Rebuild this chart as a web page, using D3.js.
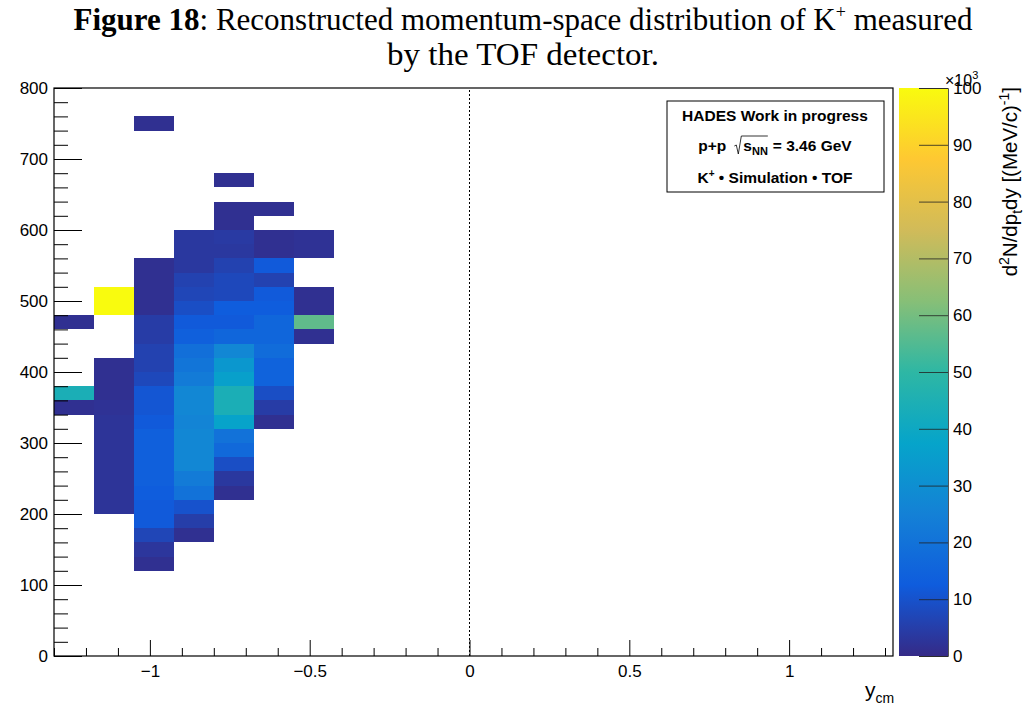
<!DOCTYPE html>
<html>
<head>
<meta charset="utf-8">
<script src="https://d3js.org/d3.v7.min.js"></script>
<style>
  body { margin: 0; background: #fff; }
  text { font-family: "Liberation Sans", Arial, sans-serif; }
</style>
</head>
<body>
<script>
// bin size of the 2D histogram
const binW = 0.125;
const binH = 20;

// filled cells: [x low edge, y low edge, z value (x10^3)]
const cells = [
  [-1.05, 740, 1.5],
  [-0.8, 660, 1.5],
  [-0.8, 620, 1.5], [-0.675, 620, 1.5],
  [-0.8, 600, 1.5],
  [-0.925, 580, 3.5], [-0.8, 580, 4], [-0.675, 580, 1.5], [-0.55, 580, 2],
  [-0.925, 560, 3.5], [-0.8, 560, 3.5], [-0.675, 560, 1.5], [-0.55, 560, 2],
  [-1.05, 540, 1.5], [-0.925, 540, 3.5], [-0.8, 540, 6], [-0.675, 540, 12],
  [-1.05, 520, 1.5], [-0.925, 520, 6], [-0.8, 520, 7.5], [-0.675, 520, 6],
  [-1.175, 500, 100], [-1.05, 500, 1.5], [-0.925, 500, 7], [-0.8, 500, 7.5], [-0.675, 500, 12], [-0.55, 500, 1.5],
  [-1.175, 480, 100], [-1.05, 480, 1.5], [-0.925, 480, 9], [-0.8, 480, 13], [-0.675, 480, 13], [-0.55, 480, 1.5],
  [-1.3, 460, 1.5], [-1.05, 460, 4.5], [-0.925, 460, 12], [-0.8, 460, 12], [-0.675, 460, 16], [-0.55, 460, 57],
  [-1.05, 440, 4.5], [-0.925, 440, 14], [-0.8, 440, 16], [-0.675, 440, 16], [-0.55, 440, 1.5],
  [-1.05, 420, 6], [-0.925, 420, 19], [-0.8, 420, 27], [-0.675, 420, 18],
  [-1.175, 400, 1.5], [-1.05, 400, 6], [-0.925, 400, 21], [-0.8, 400, 33], [-0.675, 400, 15],
  [-1.175, 380, 1.5], [-1.05, 380, 7.5], [-0.925, 380, 23], [-0.8, 380, 36], [-0.675, 380, 15],
  [-1.3, 360, 44], [-1.175, 360, 1.5], [-1.05, 360, 11], [-0.925, 360, 27], [-0.8, 360, 44], [-0.675, 360, 9],
  [-1.3, 340, 1.5], [-1.175, 340, 2], [-1.05, 340, 11], [-0.925, 340, 27], [-0.8, 340, 44], [-0.675, 340, 4.5],
  [-1.175, 320, 2.5], [-1.05, 320, 12], [-0.925, 320, 26], [-0.8, 320, 37], [-0.675, 320, 1.5],
  [-1.175, 300, 2.5], [-1.05, 300, 14], [-0.925, 300, 27], [-0.8, 300, 20],
  [-1.175, 280, 2.5], [-1.05, 280, 14], [-0.925, 280, 27], [-0.8, 280, 17],
  [-1.175, 260, 2.5], [-1.05, 260, 14], [-0.925, 260, 27], [-0.8, 260, 9],
  [-1.175, 240, 2.5], [-1.05, 240, 14], [-0.925, 240, 23], [-0.8, 240, 3.5],
  [-1.175, 220, 2.5], [-1.05, 220, 13], [-0.925, 220, 20], [-0.8, 220, 1.5],
  [-1.175, 200, 2.5], [-1.05, 200, 12], [-0.925, 200, 10],
  [-1.05, 180, 12], [-0.925, 180, 5],
  [-1.05, 160, 7], [-0.925, 160, 1.5],
  [-1.05, 140, 3],
  [-1.05, 120, 1.5]
];

const xMajor = [-1, -0.5, 0, 0.5, 1];
const yMajor = [0, 100, 200, 300, 400, 500, 600, 700, 800];
const zMajor = [0, 10, 20, 30, 40, 50, 60, 70, 80, 90, 100];

// ROOT kBird palette
const paletteStops = [0, 0.125, 0.25, 0.375, 0.5, 0.625, 0.75, 0.875, 1];
const paletteColors = [
  [0.2082, 0.1664, 0.5293], [0.0592, 0.3599, 0.8684], [0.0780, 0.5041, 0.8385],
  [0.0232, 0.6419, 0.7914], [0.1802, 0.7178, 0.6425], [0.5301, 0.7492, 0.4662],
  [0.8186, 0.7328, 0.3499], [0.9956, 0.7862, 0.1968], [0.9764, 0.9832, 0.0539]
].map(c => d3.rgb(c[0] * 255, c[1] * 255, c[2] * 255).formatHex());

const W = 1028, H = 709;
const svg = d3.select("body").append("svg").attr("width", W).attr("height", H);

const frame = { left: 54, right: 893, top: 88, bottom: 656 };
const x = d3.scaleLinear().domain([-1.3, 1.325]).range([frame.left, frame.right]);
const y = d3.scaleLinear().domain([0, 800]).range([frame.bottom, frame.top]);
const zMax = 100;
const color = d3.scaleLinear()
  .domain(paletteStops.map(s => s * zMax))
  .range(paletteColors)
  .clamp(true);

// title
const title = svg.append("text")
  .attr("text-anchor", "middle")
  .style("font-family", "'Liberation Serif', 'Times New Roman', serif")
  .attr("font-size", 31);
const l1 = title.append("tspan").attr("x", 523).attr("y", 30);
l1.append("tspan").attr("font-weight", "bold").text("Figure 18");
l1.append("tspan").text(": Reconstructed momentum-space distribution of K");
l1.append("tspan").attr("font-size", 18).attr("dy", -12).text("+");
l1.append("tspan").attr("dy", 12).text(" measured");
title.append("tspan").attr("x", 523).attr("y", 65)
  .attr("textLength", 272).attr("lengthAdjust", "spacingAndGlyphs")
  .text("by the TOF detector.");

// cells
svg.append("g")
  .selectAll("rect")
  .data(cells)
  .join("rect")
  .attr("x", d => x(d[0]))
  .attr("y", d => y(d[1] + binH))
  .attr("width", d => x(d[0] + binW) - x(d[0]))
  .attr("height", d => y(d[1]) - y(d[1] + binH))
  .attr("fill", d => color(d[2]))
  .attr("shape-rendering", "crispEdges");

// dotted line at y_cm = 0
svg.append("line")
  .attr("x1", x(0)).attr("x2", x(0))
  .attr("y1", y(0)).attr("y2", y(800))
  .attr("stroke", "#000")
  .attr("stroke-width", 1)
  .attr("stroke-dasharray", "2,2");

// axes
const fmt = d3.format("~g");
const xMinor = x.ticks(26).filter(v => !xMajor.some(m => Math.abs(m - v) < 1e-6));
const yMinor = y.ticks(40).filter(v => v % 100 !== 0);
const labelFont = g => g.selectAll("text").attr("font-size", 17).attr("font-family", "Liberation Sans, Arial, sans-serif");

svg.append("g")
  .attr("transform", `translate(0,${frame.bottom})`)
  .call(d3.axisBottom(x).tickValues(xMinor).tickSize(-8).tickFormat(""))
  .call(g => g.select(".domain").remove());
svg.append("g")
  .attr("transform", `translate(0,${frame.bottom})`)
  .call(d3.axisBottom(x).tickValues(xMajor).tickSize(-16).tickPadding(9).tickFormat(fmt))
  .call(g => g.select(".domain").remove())
  .call(labelFont);

svg.append("g")
  .attr("transform", `translate(${frame.left},0)`)
  .call(d3.axisLeft(y).tickValues(yMinor).tickSize(-14).tickFormat(""))
  .call(g => g.select(".domain").remove());
svg.append("g")
  .attr("transform", `translate(${frame.left},0)`)
  .call(d3.axisLeft(y).tickValues(yMajor).tickSize(-28).tickPadding(6).tickFormat(fmt))
  .call(g => g.select(".domain").remove())
  .call(labelFont);

// frame
svg.append("rect")
  .attr("x", frame.left).attr("y", frame.top)
  .attr("width", frame.right - frame.left).attr("height", frame.bottom - frame.top)
  .attr("fill", "none").attr("stroke", "#000").attr("stroke-width", 1.2);

// x axis title
const xt = svg.append("text").attr("x", 865).attr("y", 697).attr("font-size", 21);
xt.append("tspan").text("y");
xt.append("tspan").attr("font-size", 14).attr("dy", 6).text("cm");

// colour bar
const cb = { left: 899, right: 948 };
const zScale = d3.scaleLinear().domain([0, zMax]).range([frame.bottom, frame.top]);
const grad = svg.append("defs").append("linearGradient")
  .attr("id", "zgrad").attr("x1", 0).attr("x2", 0).attr("y1", 1).attr("y2", 0);
grad.selectAll("stop")
  .data(paletteStops)
  .join("stop")
  .attr("offset", d => d)
  .attr("stop-color", d => color(d * zMax));
svg.append("rect")
  .attr("x", cb.left).attr("y", zScale(zMax))
  .attr("width", cb.right - cb.left).attr("height", zScale(0) - zScale(zMax))
  .attr("fill", "url(#zgrad)");
svg.append("g")
  .attr("transform", `translate(${cb.right},0)`)
  .call(d3.axisRight(zScale).tickValues(zMajor).tickSize(-29).tickPadding(5).tickFormat(fmt))
  .call(g => g.select(".domain").attr("stroke", "#555"))
  .call(g => g.selectAll(".tick line").attr("stroke", "#222").attr("stroke-opacity", 0.8))
  .call(labelFont);

// exponent label (overlaps the top label, as in the original)
const ex = svg.append("text").attr("x", 945).attr("y", 86).attr("font-size", 16);
ex.append("tspan").text("\u00d710");
ex.append("tspan").attr("font-size", 11).attr("dy", -7).text("3");

// z axis title
const zt = svg.append("text")
  .attr("transform", `translate(1017,87) rotate(-90)`)
  .attr("text-anchor", "end")
  .attr("font-size", 20.5);
zt.append("tspan").text("d");
zt.append("tspan").attr("font-size", 14).attr("dy", -8).text("2");
zt.append("tspan").attr("dy", 8).text("N/dp");
zt.append("tspan").attr("font-size", 14).attr("dy", 5).text("t");
zt.append("tspan").attr("dy", -5).text("dy [(MeV/c)");
zt.append("tspan").attr("font-size", 14).attr("dy", -8).text("-1");
zt.append("tspan").attr("dy", 8).text("]");

// info box
const box = { x: 667, y: 101, w: 217, h: 91, cx: 775 };
svg.append("rect")
  .attr("x", box.x).attr("y", box.y).attr("width", box.w).attr("height", box.h)
  .attr("fill", "#fff").attr("stroke", "#000").attr("stroke-width", 1);

const legend = svg.append("g").attr("font-weight", "bold").attr("font-size", 15.5);
legend.append("text").attr("x", box.cx).attr("y", 121).attr("text-anchor", "middle")
  .text("HADES Work in progress");

const rowY = 151;
const pp = legend.append("text").attr("y", rowY).text("p+p");
const sNN = legend.append("text").attr("y", rowY);
sNN.append("tspan").text("s");
sNN.append("tspan").attr("font-size", 11).attr("dy", 4).text("NN");
const rest = legend.append("text").attr("y", rowY).text("= 3.46 GeV");
const wPP = pp.node().getComputedTextLength();
const wS = sNN.node().getComputedTextLength();
const wR = rest.node().getComputedTextLength();
const gap = 8, radW = 9, sp = 5;
const x0 = box.cx - (wPP + gap + radW + wS + sp + wR) / 2;
pp.attr("x", x0);
const rx = x0 + wPP + gap;
sNN.attr("x", rx + radW);
rest.attr("x", rx + radW + wS + sp);
legend.append("path")
  .attr("d", `M${rx},${rowY - 5} L${rx + 2},${rowY - 6} L${rx + 4},${rowY + 3} L${rx + 7},${rowY - 15} L${rx + radW + wS},${rowY - 15}`)
  .attr("fill", "none").attr("stroke", "#000").attr("stroke-width", 0.8);

const k = legend.append("text").attr("x", box.cx).attr("y", 183).attr("text-anchor", "middle");
k.append("tspan").text("K");
k.append("tspan").attr("font-size", 10).attr("dy", -6).text("+");
k.append("tspan").attr("dy", 6).text(" \u2022 Simulation \u2022 TOF");
</script>
</body>
</html>
